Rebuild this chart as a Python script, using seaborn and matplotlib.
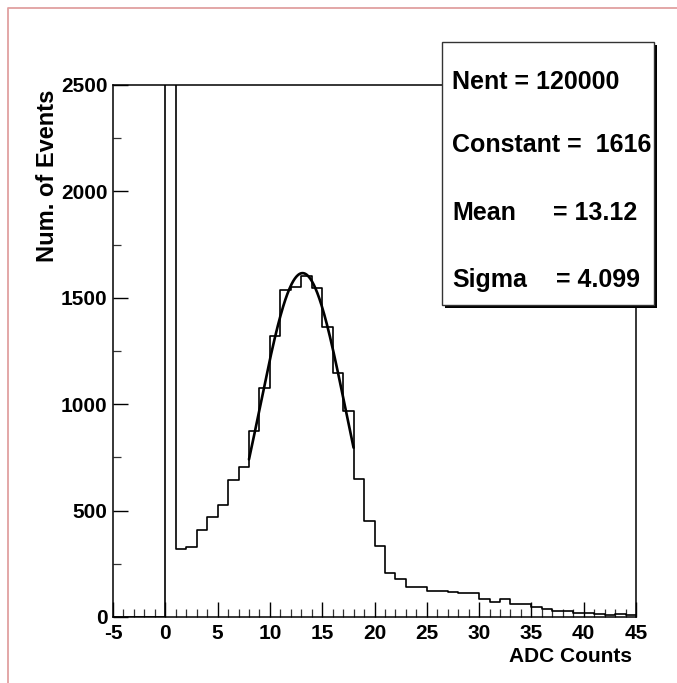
import numpy as np
import pandas as pd
import seaborn as sns
import matplotlib.pyplot as plt
from matplotlib.patches import Rectangle
from matplotlib.ticker import MultipleLocator

# Histograma de cuentas ADC (bins de ancho 1, de -5 a 45)
bin_lo, bin_hi = -5, 45
counts = [0, 0, 0, 0, 0,
          100345, 318, 329, 410, 468, 526, 642, 705, 873, 1075,
          1322, 1537, 1552, 1602, 1545, 1364, 1145, 967, 650, 451,
          332, 208, 180, 140, 143, 124, 124, 119, 111, 111,
          85, 72, 83, 60, 60, 47, 38, 28, 28, 17,
          17, 15, 9, 15, 8]

# Parametros del ajuste gaussiano (caja de estadisticas)
nent = 120000
fit_const = 1616
fit_mean = 13.12
fit_sigma = 4.099
fit_range = (8, 18)

x_ticks = list(range(-5, 46, 5))
y_ticks = [0, 500, 1000, 1500, 2000, 2500]

df = pd.DataFrame({"adc": np.arange(bin_lo, bin_hi) + 0.5, "n": counts})

x_fit = np.linspace(fit_range[0], fit_range[1], 200)
y_fit = fit_const * np.exp(-0.5 * ((x_fit - fit_mean) / fit_sigma) ** 2)

sns.set_theme(style="white")
plt.rcParams['font.family'] = ['Liberation Sans', 'DejaVu Sans']
plt.rcParams['font.weight'] = 'bold'
plt.rcParams['axes.unicode_minus'] = False

W, H = 677, 683
fig = plt.figure(figsize=(W / 100, H / 100), dpi=100)
ax = fig.add_axes([113 / W, 1 - 617 / H, (636 - 113) / W, (617 - 85) / H])

sns.histplot(data=df, x="adc", weights="n", binwidth=1, binrange=(bin_lo, bin_hi),
             element="step", fill=False, color="black", linewidth=1.2, ax=ax)
sns.lineplot(x=x_fit, y=y_fit, color="black", linewidth=1.9, ax=ax)

ax.set_xlim(-5, 45)
ax.set_ylim(0, 2500)
ax.set_xticks(x_ticks)
ax.set_yticks(y_ticks)
ax.xaxis.set_minor_locator(MultipleLocator(1))
ax.yaxis.set_minor_locator(MultipleLocator(250))
ax.tick_params(axis="both", which="major", direction="in", length=11, width=1.0,
               color="black", labelsize=15, labelcolor="black")
ax.tick_params(axis="both", which="minor", direction="in", length=5.5, width=0.9,
               color="#333333")
ax.tick_params(axis="x", which="both", bottom=True, top=False, pad=5)
ax.tick_params(axis="y", which="both", left=True, right=False, pad=4)
for lab in ax.get_xticklabels() + ax.get_yticklabels():
    lab.set_fontweight("bold")
for s in ax.spines.values():
    s.set_color("black")
    s.set_linewidth(1.1)

ax.set_xlabel("ADC Counts", fontsize=15, fontweight="bold", color="black")
ax.xaxis.set_label_coords((632 - 113) / 523, (617 - 657) / 532)
ax.xaxis.label.set_horizontalalignment("right")
ax.xaxis.label.set_verticalalignment("center")
ax.set_ylabel("Num. of Events", fontsize=17, fontweight="bold", color="black")
ax.yaxis.set_label_coords((48 - 113) / 523, (617 - 176) / 532)
ax.yaxis.label.set_verticalalignment("center")

# Caja de estadisticas con sombra
bx0, bx1, by0, by1 = 442, 654, 42, 305
fig.add_artist(Rectangle(((bx0 + 3) / W, 1 - (by1 + 3) / H), (bx1 - bx0) / W, (by1 - by0) / H,
                         transform=fig.transFigure, facecolor="black", edgecolor="black",
                         linewidth=0, zorder=5))
fig.add_artist(Rectangle((bx0 / W, 1 - by1 / H), (bx1 - bx0) / W, (by1 - by0) / H,
                         transform=fig.transFigure, facecolor="white", edgecolor="#333333",
                         linewidth=1.0, zorder=6))
tk = dict(fontsize=18, fontweight="bold", color="black", va="center", ha="left", zorder=7)
fig.text(452 / W, 1 - 82 / H, f"Nent = {nent}", **tk)
fig.text(452 / W, 1 - 145 / H, f"Constant =  {fit_const}", **tk)
fig.text(452 / W, 1 - 213 / H, "Mean", **tk)
fig.text(553 / W, 1 - 213 / H, f"= {fit_mean:.2f}", **tk)
fig.text(452 / W, 1 - 280 / H, "Sigma", **tk)
fig.text(556 / W, 1 - 280 / H, f"= {fit_sigma:.3f}", **tk)

# Borde del lienzo (arriba e izquierda)
fig.add_artist(plt.Line2D([8 / W, 8 / W, 1], [0, 1 - 8 / H, 1 - 8 / H],
                          transform=fig.transFigure, color="#e0a0a0", linewidth=1.3))

fig.savefig("out.png", dpi=100)
